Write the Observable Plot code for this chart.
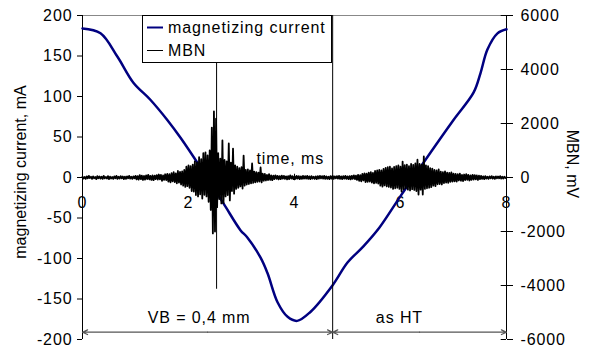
<!DOCTYPE html>
<html><head><meta charset="utf-8">
<script src="https://cdn.jsdelivr.net/npm/d3@7"></script>
<script src="https://cdn.jsdelivr.net/npm/@observablehq/plot@0.6"></script>
<style>
html,body{margin:0;padding:0;background:#fff;}
#chart svg text{letter-spacing:0.9px;}
</style>
</head><body><div id="chart"></div>
<script>
// magnetizing current (mA) vs time (ms)
const currentTime = [0, 0.34, 0.66, 0.96, 1.28, 1.6, 1.85, 2.23, 2.66, 2.98, 3.11, 3.36, 3.49, 3.68, 3.87, 4.05, 4.3, 4.72, 5.0, 5.3, 5.6, 6.0, 6.43, 7.0, 7.38, 7.51, 7.64, 7.83, 8.0];
const currentValues = [184, 178, 149, 117, 96, 71, 49, 12, -32, -65, -74, -99, -118, -154, -172, -177, -166, -133, -105, -85, -62, -23, 18, 71, 105, 129, 158, 178, 183];

// MBN signal (mV), sampled every mbnStep ms from t = 0
const mbnStep = 0.02;
const mbnValues = [
  30,-40,20,-50,40,-30,60,-20,30,-50,
  40,-30,20,-60,50,-30,40,-40,30,-50,
  60,-30,20,-40,50,-60,30,-40,20,-50,
  40,-30,60,-50,30,-40,50,-30,40,-60,
  30,-50,40,-30,60,-40,30,-50,40,-30,
  60,-70,50,-80,90,-60,70,-90,60,-80,
  80,-60,100,-70,60,-90,80,-100,70,-60,
  90,-80,110,-70,100,-120,80,-90,120,-100,
  130,-150,120,-180,160,-140,200,-170,150,-220,
  240,-190,210,-260,230,
  -300,280,-350,400,-320,450,-380,420,-500,480,
  -520,600,-650,560,-700,750,-620,680,-780,900,
  -640,930,-700,820,-900,1000,-1200,1850,-2070,2450,
  -2000,2180,-1100,900,-800,700,-960,1370,-950,650,
  -700,600,-650,1260,-850,550,-500,1070,-600,450,
  -420,400,-380,350,-330,380,-410,810,-300,280,
  -260,300,-240,260,-220,520,-200,220,-180,200,
  -160,180,-150,370,-180,140,-120,130,-110,100,
  -100,120,-90,80,-100,
  70,-60,80,-50,60,-70,50,-60,70,-40,
  60,-50,40,-70,50,-60,80,-40,50,-60,
  40,-50,60,-40,50,-60,40,-50,60,-40,
  50,-40,60,-50,40,-60,50,-40,30,-50,
  40,-60,50,-40,60,-30,50,-40,60,-50,
  40,-50,30,-60,50,-40,60,-50,40,-30,
  50,-40,60,-50,40,-60,50,-40,60,-50,
  40,-60,50,-70,60,-50,80,-60,70,-90,
  100,-120,90,-140,130,-110,150,-170,140,-160,
  180,-150,200,-190,170,-220,240,-200,260,-230,
  280,-300,260,-340,320,-290,360,-330,380,-350,
  400,-370,340,-420,390,
  -400,420,-380,450,-420,400,-520,590,-430,460,
  -400,480,-450,420,-480,500,-430,470,-460,520,
  -500,660,-630,500,-450,480,-630,780,-420,450,
  -400,420,-380,350,-360,330,
  -300,280,-320,260,-250,300,-240,220,-260,200,
  -210,230,-190,180,-200,170,-160,190,-150,140,
  -140,130,-150,120,-110,140,-120,100,-130,110,
  -100,120,-90,100,-110,80,-90,100,-80,90,
  -70,80,-90,70,-60,
  60,-50,40,-60,50,-40,30,-50,40,-30,
  50,-40,30,-50,40,-30,40,-30,50,-40,
  30,-40,30,-20,10
];

const leftTicks = [-200, -150, -100, -50, 0, 50, 100, 150, 200];
const rightTicks = [-6000, -4000, -2000, 0, 2000, 4000, 6000];
const xTicks = [0, 2, 4, 6, 8];
const mvPerMa = 30; // 6000 mV on the right axis = 200 mA on the left

const legendLabels = ["magnetizing current", "MBN"];
const spanStarts = [0, 4.72];
const spanEnds = [4.72, 8];
const spanLabels = ["VB = 0,4 mm", "as HT"];
const spanLabelTimes = [2.2, 5.98];
const markerLine1 = 2.53;
const markerLine2 = 4.72;

const current = currentTime.map((t, i) => ({t, v: currentValues[i]}));
const mbn = mbnValues.map((v, i) => ({t: i * mbnStep, v}));
const spans = spanStarts.map((s, i) => ({s, e: spanEnds[i], m: (s + spanEnds[i]) / 2, label: spanLabels[i], lt: spanLabelTimes[i]}));

const blue = "#000080";
const arrowY = -191;

const plot = Plot.plot({
  width: 589, height: 354,
  marginLeft: 82, marginRight: 83, marginTop: 15, marginBottom: 15,
  x: {domain: [0, 8], axis: null},
  y: {domain: [-200, 200], axis: null},
  style: {fontFamily: "'Liberation Sans', Arial, sans-serif", fontSize: "16px", color: "black", background: "white"},
  marks: [
    Plot.ruleY([200], {stroke: "#888", strokeWidth: 1}),
    Plot.ruleY([0], {stroke: "black"}),
    Plot.ruleX(xTicks, {x: d => d, y1: -4, y2: 4, stroke: "black"}),
    Plot.text(xTicks, {x: d => d, y: 0, dy: 25, text: d => String(d)}),
    Plot.ruleX([0], {stroke: "black"}),
    Plot.ruleX([8], {stroke: "black"}),
    Plot.axisY({anchor: "left", ticks: leftTicks, tickSize: 5, tickPadding: 5, tickFormat: d => String(d), label: null}),
    Plot.axisY({anchor: "right", ticks: rightTicks.map(v => v / mvPerMa), tickSize: 6, tickPadding: 8, tickFormat: d => String(Math.round(d * mvPerMa)), label: null}),
    Plot.ruleY(rightTicks, {y: d => d / mvPerMa, x1: 7.9, x2: 8, stroke: "black"}),
    Plot.line(current, {x: "t", y: "v", stroke: blue, strokeWidth: 2.5, curve: "catmull-rom"}),
    Plot.line(mbn, {x: "t", y: d => d.v / mvPerMa, stroke: "black", strokeWidth: 1.8}),
    Plot.ruleX([markerLine1], {y1: -138, y2: 200, stroke: "black", strokeWidth: 1}),
    Plot.ruleX([markerLine2], {y1: -200, y2: 200, stroke: "black", strokeWidth: 1}),
    Plot.arrow(spans, {x1: "m", x2: "s", y1: arrowY, y2: arrowY, stroke: "#555", strokeWidth: 1.2, headLength: 7, headAngle: 50}),
    Plot.arrow(spans, {x1: "m", x2: "e", y1: arrowY, y2: arrowY, stroke: "#555", strokeWidth: 1.2, headLength: 7, headAngle: 50}),
    Plot.text(spans, {x: "lt", y: -173, text: "label"}),
    Plot.text(["time, ms"], {x: 3.92, y: 23.5, text: d => d})
  ]
});
document.getElementById("chart").appendChild(plot);

const svg = d3.select(plot);
// legend
const lg = svg.append("g");
lg.append("rect").attr("x", 142.5).attr("y", 15.5).attr("width", 189).attr("height", 47)
  .attr("fill", "white").attr("stroke", "black").attr("stroke-width", 1);
const legendColors = [blue, "black"];
const legendWidths = [2, 1];
legendLabels.forEach((lab, i) => {
  const y = 27.5 + i * 23;
  lg.append("line").attr("x1", 147).attr("x2", 163).attr("y1", y).attr("y2", y)
    .attr("stroke", legendColors[i]).attr("stroke-width", legendWidths[i]);
  lg.append("text").attr("x", 168).attr("y", y).attr("dy", "0.35em")
    .attr("text-anchor", "start").attr("fill", "black").text(lab);
});
// axis titles
svg.append("text").attr("transform", "translate(20,172) rotate(-90)").attr("text-anchor", "middle")
  .attr("dy", "0.35em").style("letter-spacing", "0px").attr("fill", "black").text("magnetizing current, mA");
svg.append("text").attr("transform", "translate(573,164) rotate(90)").attr("text-anchor", "middle")
  .attr("dy", "0.35em").style("letter-spacing", "0px").attr("fill", "black").text("MBN, mV");
</script>
</body></html>
